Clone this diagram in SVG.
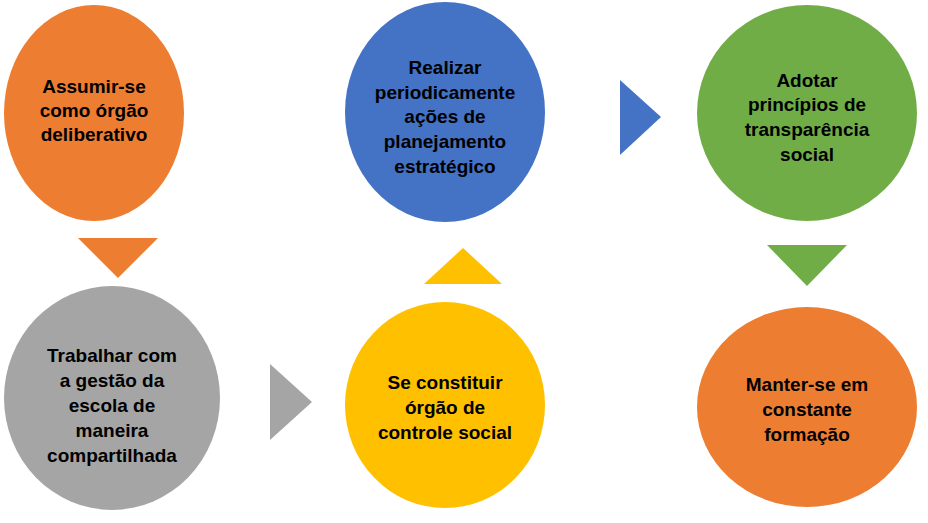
<svg xmlns="http://www.w3.org/2000/svg" width="928" height="523" viewBox="0 0 928 523">
<style>
text{font-family:"Liberation Sans",Arial,sans-serif;font-weight:bold;font-size:19px;text-anchor:middle;fill:#000}
</style>
<rect width="928" height="523" fill="#fff"/>
<g id="connectors">
<polygon points="78,238 158,238 118,278" fill="#ED7D31"/>
<polygon points="270,364 270,440 312,402" fill="#A5A5A5"/>
<polygon points="424,284 502,284 463,248" fill="#FFC000"/>
<polygon points="620,80 620,155 661,117" fill="#4472C4"/>
<polygon points="767,245 847,245 807,286" fill="#70AD47"/>
</g>
<g id="n1"><ellipse cx="94" cy="113" rx="90" ry="108" fill="#ED7D31"/>
<text x="94" y="93">Assumir-se</text><text x="94" y="117">como órgão</text><text x="94" y="141">deliberativo</text></g>
<g id="n2"><ellipse cx="445" cy="112" rx="100" ry="110" fill="#4472C4"/>
<text x="445" y="74">Realizar</text><text x="445" y="99">periodicamente</text><text x="445" y="123">ações de</text><text x="445" y="148">planejamento</text><text x="445" y="173">estratégico</text></g>
<g id="n3"><ellipse cx="807" cy="113" rx="110" ry="108" fill="#70AD47"/>
<text x="807" y="87">Adotar</text><text x="807" y="111">princípios de</text><text x="807" y="136">transparência</text><text x="807" y="161">social</text></g>
<g id="n4"><ellipse cx="112" cy="398" rx="108" ry="112" fill="#A5A5A5"/>
<text x="112" y="362">Trabalhar com</text><text x="112" y="387">a gestão da</text><text x="112" y="412">escola de</text><text x="112" y="437">maneira</text><text x="112" y="462">compartilhada</text></g>
<g id="n5"><ellipse cx="445" cy="405" rx="100" ry="103" fill="#FFC000"/>
<text x="445" y="389">Se constituir</text><text x="445" y="414">órgão de</text><text x="445" y="439">controle social</text></g>
<g id="n6"><ellipse cx="807" cy="407" rx="110" ry="100" fill="#ED7D31"/>
<text x="807" y="391">Manter-se em</text><text x="807" y="416">constante</text><text x="807" y="441">formação</text></g>
</svg>
